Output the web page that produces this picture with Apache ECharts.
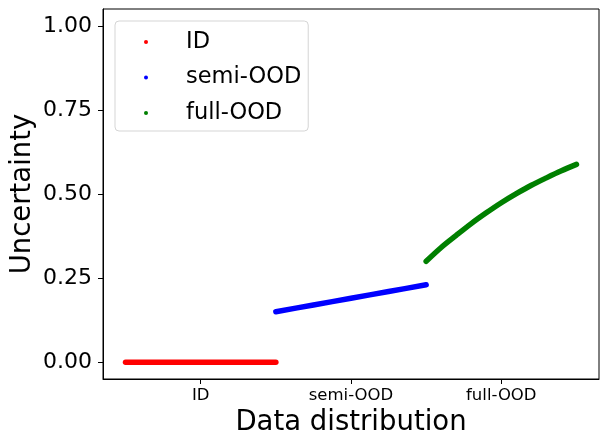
<!DOCTYPE html>
<html>
<head>
<meta charset="utf-8">
<script src="https://cdn.jsdelivr.net/npm/echarts@6/dist/echarts.min.js"></script>
<style>html,body{margin:0;padding:0;background:#fff;}#c{width:608px;height:447px;}</style>
</head>
<body>
<div id="c"></div>
<script>
// x positions: each distribution occupies one unit on the x axis
const categories = ['ID', 'semi-OOD', 'full-OOD'];
const categoryTickPositions = [0.5, 1.5, 2.5];
const yTickValues = [0, 0.25, 0.5, 0.75, 1.0];

// [x, uncertainty]
const idPoints = [[0.0, 0.0], [0.25, 0.0], [0.5, 0.0], [0.75, 0.0], [1.0, 0.0]];
const semiOodPoints = [[1.0, 0.150], [1.25, 0.170], [1.5, 0.190], [1.75, 0.210], [2.0, 0.230]];
const fullOodPoints = [
  [2.0, 0.300], [2.1, 0.341], [2.2, 0.377], [2.3, 0.412], [2.4, 0.444], [2.5, 0.474],
  [2.6, 0.501], [2.7, 0.526], [2.8, 0.548], [2.9, 0.569], [3.0, 0.588]
];

const font = 'DejaVu Sans';
const chart = echarts.init(document.getElementById('c'), null, {renderer: 'canvas'});

function mk(name, data, color) {
  return {
    name: name, type: 'line', data: data, symbol: 'none', smooth: 0.3,
    lineStyle: {color: color, width: 5.5, cap: 'round', join: 'round'},
    itemStyle: {color: color},
    silent: true, animation: false
  };
}

chart.setOption({
  animation: false,
  backgroundColor: '#ffffff',
  grid: {left: 103, right: 9, top: 9, bottom: 68, outerBoundsMode: 'none', containLabel: false,
         show: true, borderColor: '#000', borderWidth: 1, backgroundColor: 'transparent'},
  legend: {
    orient: 'vertical', left: 115, top: 21,
    padding: [9, 7, 6, 29],
    itemGap: 11.5, itemWidth: 34, itemHeight: 4, icon: 'circle',
    backgroundColor: '#fff', borderColor: '#d5d5d5', borderWidth: 1, borderRadius: 4,
    textStyle: {fontFamily: font, fontSize: 22.5, color: '#000', lineHeight: 24, padding: [0, 0, 0, 18]},
    data: ['ID', 'semi-OOD', 'full-OOD']
  },
  xAxis: {
    type: 'value', min: -0.15, max: 3.15,
    name: 'Data distribution', nameLocation: 'middle', nameGap: 30, nameMoveOverlap: false,
    nameTextStyle: {fontFamily: font, fontSize: 27.5, color: '#000'},
    axisLine: {show: true, onZero: false, lineStyle: {color: '#000', width: 1}},
    axisTick: {show: true, length: 5, lineStyle: {color: '#000'}, customValues: categoryTickPositions},
    axisLabel: {
      show: true, margin: 8, fontFamily: font, fontSize: 16.5, color: '#000',
      customValues: categoryTickPositions,
      formatter: function (v) {
        const i = categoryTickPositions.indexOf(v);
        return i >= 0 ? categories[i] : '';
      }
    },
    splitLine: {show: false}
  },
  yAxis: {
    type: 'value', min: -0.05, max: 1.05,
    name: 'Uncertainty', nameLocation: 'middle', nameGap: 66, nameMoveOverlap: false,
    nameTextStyle: {fontFamily: font, fontSize: 27.5, color: '#000'},
    axisLine: {show: true, onZero: false, lineStyle: {color: '#000', width: 1}},
    axisTick: {show: true, length: 5, lineStyle: {color: '#000'}, customValues: yTickValues},
    axisLabel: {
      show: true, margin: 11, fontFamily: font, fontSize: 22, color: '#000',
      customValues: yTickValues,
      formatter: function (v) { return v.toFixed(2); }
    },
    splitLine: {show: false}
  },
  series: [
    mk('ID', idPoints, '#ff0000'),
    mk('semi-OOD', semiOodPoints, '#0000ff'),
    mk('full-OOD', fullOodPoints, '#008000')
  ]
});
</script>
</body>
</html>
